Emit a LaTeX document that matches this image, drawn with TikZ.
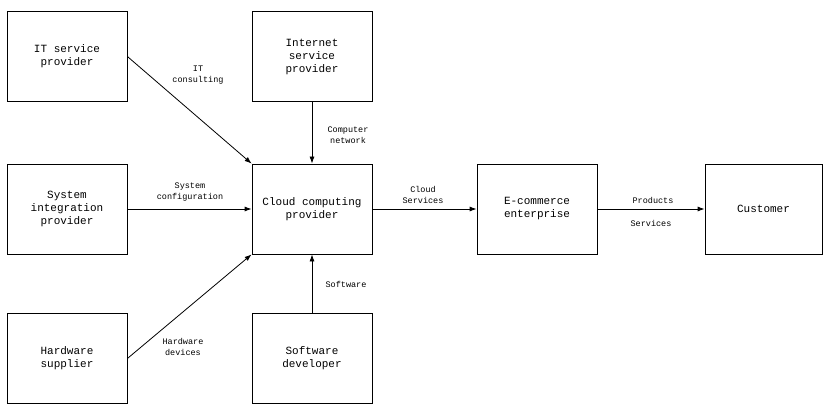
\documentclass[tikz,border=0pt]{standalone}
\usepackage{fontspec}
\setmainfont{Liberation Mono}
\usetikzlibrary{arrows.meta}
\begin{document}
\begin{tikzpicture}[x=1pt,y=-1pt,
 box/.style={draw,line width=0.8pt,minimum width=120pt,minimum height=90pt,align=center,font=\fontsize{11}{13}\selectfont,inner sep=0pt},
 lab/.style={align=center,font=\fontsize{8.5}{11}\selectfont,inner sep=1pt},
 arr/.style={-{Latex[length=7pt,width=5pt]},line width=0.8pt}]
\useasboundingbox (0,0) rectangle (824,406);
\node[box] (it) at (67,56.5) {IT service\\provider};
\node[box] (isp) at (312,56.5) {Internet\\service\\provider};
\node[box] (si) at (67,209) {System\\integration\\provider};
\node[box] (cc) at (312,209) {Cloud computing\\provider};
\node[box] (ec) at (537,209) {E-commerce\\enterprise};
\node[box,minimum width=117pt] (cu) at (763.5,209) {Customer};
\node[box] (hw) at (67,358.5) {Hardware\\supplier};
\node[box] (sw) at (312,358.5) {Software\\developer};
\draw[arr] (it.east) -- (cc.north west);
\draw[arr] (hw.east) -- (cc.south west);
\draw[arr] (isp) -- (cc);
\draw[arr] (sw) -- (cc);
\draw[arr] (si) -- (cc);
\draw[arr] (cc) -- (ec);
\draw[arr] (ec) -- (cu);
\node[lab] (l1) at (198,75) {IT\\consulting};
\node[lab] (l2) at (348,135) {Computer\\network};
\node[lab] (l3) at (190,192) {System\\configuration};
\node[lab] (l4) at (423,195) {Cloud\\Services};
\node[lab] (l5) at (653,200) {Products};
\node[lab] (l6) at (651,223) {Services};
\node[lab] (l7) at (346,284) {Software};
\node[lab] (l8) at (183,347) {Hardware\\devices};
\end{tikzpicture}
\end{document}
